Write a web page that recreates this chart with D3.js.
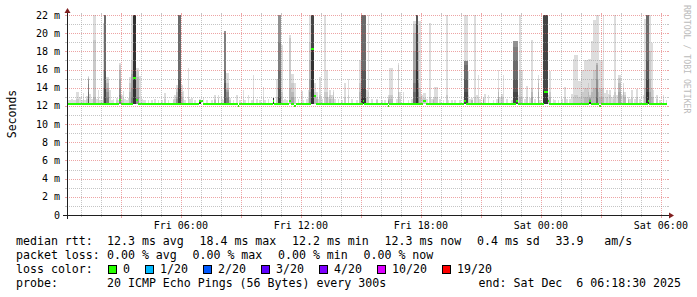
<!DOCTYPE html>
<html>
<head>
<meta charset="utf-8">
<script src="https://cdn.jsdelivr.net/npm/d3@7"></script>
<style>
  body { margin: 0; background: #fff; }
  text { font-family: "DejaVu Sans Mono", monospace; white-space: pre; }
</style>
</head>
<body>
<svg id="chart" width="697" height="297"></svg>
<script>
// ---------------------------------------------------------------------------
// Data
// ---------------------------------------------------------------------------
const startTime = "Fri 00:18:30";
const endTime = "Sat 06:18:30";
const stepMinutes = 5;
const basePing = 12.25;           // where the quiet pings sit
const yMax = 22;                  // ms

const yTicks = [0, 2, 4, 6, 8, 10, 12, 14, 16, 18, 20, 22];
const yTickLabels = ["0", "2 m", "4 m", "6 m", "8 m", "10 m", "12 m", "14 m", "16 m", "18 m", "20 m", "22 m"];
const xLabelTimes = ["Fri 06:00", "Fri 12:00", "Fri 18:00", "Sat 00:00", "Sat 06:00"];

// smoke columns: [start time, number of 5 min steps, upper pings in ms (highest first)]
const smoke = [
  ["Fri 00:20", 2, [12.6]],
  ["Fri 00:30", 1, [12.8]],
  ["Fri 00:35", 2, [12.7]],
  ["Fri 00:45", 2, [13.5, 12.8]],
  ["Fri 00:55", 1, [13.0]],
  ["Fri 01:00", 1, [12.7]],
  ["Fri 01:05", 1, [13.4, 12.8]],
  ["Fri 01:10", 1, [12.7]],
  ["Fri 01:15", 1, [13.1, 12.8]],
  ["Fri 01:20", 1, [15.3, 15.2, 15.1, 15.0, 14.8, 14.4, 13.5, 12.8]],
  ["Fri 01:25", 1, [13.3]],
  ["Fri 01:30", 1, [12.8]],
  ["Fri 01:35", 2, [23, 19.2, 13.0]],
  ["Fri 01:45", 1, [12.8]],
  ["Fri 01:50", 1, [13.8, 12.9]],
  ["Fri 01:55", 2, [12.7]],
  ["Fri 02:05", 1, [21.1, 16, 14, 13]],
  ["Fri 02:10", 1, [23, 23, 23, 23, 23, 23, 23, 16, 14]],
  ["Fri 02:15", 2, [15.2, 15, 14.5, 14, 13.5, 13]],
  ["Fri 02:25", 1, [13.7]],
  ["Fri 02:30", 1, [12.6]],
  ["Fri 02:35", 1, [12.8]],
  ["Fri 02:45", 1, [12.9, 12.6]],
  ["Fri 02:50", 1, [12.6]],
  ["Fri 02:55", 1, [16.7, 16.5, 16, 15, 14, 13.2]],
  ["Fri 03:00", 1, [13.2, 12.7]],
  ["Fri 03:05", 1, [13.6, 12.9]],
  ["Fri 03:10", 1, [12.8]],
  ["Fri 03:15", 1, [12.6]],
  ["Fri 03:20", 1, [12.9]],
  ["Fri 03:25", 1, [15.2, 14.5, 13.5]],
  ["Fri 03:30", 1, [23, 17, 16, 15.5, 14, 13]],
  ["Fri 03:35", 2, [23, 23, 23, 23, 23, 23, 23, 23, 23, 23]],
  ["Fri 03:45", 2, [16.2, 15.8, 15.2, 14, 13]],
  ["Fri 03:55", 1, [15.3]],
  ["Fri 04:00", 1, [12.8]],
  ["Fri 04:05", 1, [12.6]],
  ["Fri 04:10", 1, [12.6]],
  ["Fri 04:20", 1, [12.7]],
  ["Fri 04:30", 1, [12.6]],
  ["Fri 04:40", 1, [12.8]],
  ["Fri 04:50", 1, [12.6]],
  ["Fri 05:00", 1, [12.6]],
  ["Fri 05:10", 1, [13.4, 12.8]],
  ["Fri 05:20", 1, [12.7]],
  ["Fri 05:35", 1, [12.8, 12.6]],
  ["Fri 05:40", 1, [13.2, 12.8]],
  ["Fri 05:45", 1, [14.3, 13.9, 13.5, 13, 12.8]],
  ["Fri 05:50", 2, [23, 23, 23, 23, 23, 23, 23, 15, 14]],
  ["Fri 06:00", 1, [14.3, 13.5, 13]],
  ["Fri 06:05", 1, [13.6, 12.8]],
  ["Fri 06:10", 1, [12.7]],
  ["Fri 06:20", 1, [16.2, 13]],
  ["Fri 06:25", 1, [12.8]],
  ["Fri 06:30", 1, [12.9]],
  ["Fri 06:40", 1, [12.7]],
  ["Fri 06:55", 1, [12.8, 12.6, 12.6, 12.5, 12.5, 12.5, 12.5, 12.5, 12.5, 12.5]],
  ["Fri 07:05", 1, [13]],
  ["Fri 07:15", 1, [12.7]],
  ["Fri 07:30", 1, [12.6]],
  ["Fri 07:40", 1, [13.2, 12.8, 12.6]],
  ["Fri 07:50", 1, [13.2, 12.9, 12.7]],
  ["Fri 08:00", 1, [12.8]],
  ["Fri 08:05", 1, [12.7]],
  ["Fri 08:10", 1, [20.2, 20.2, 20.2, 20.2, 20.2, 20, 16, 14.5]],
  ["Fri 08:15", 2, [15.6, 14.5, 14, 13.8, 13.5, 13]],
  ["Fri 08:25", 1, [12.9, 12.6]],
  ["Fri 08:35", 1, [12.7]],
  ["Fri 08:45", 1, [13.2]],
  ["Fri 08:55", 1, [12.6]],
  ["Fri 09:05", 1, [13.7, 12.8]],
  ["Fri 09:10", 1, [12.7]],
  ["Fri 09:20", 1, [13.2]],
  ["Fri 09:30", 1, [12.7]],
  ["Fri 09:35", 1, [15.4, 13]],
  ["Fri 09:45", 1, [12.8]],
  ["Fri 09:55", 1, [12.7]],
  ["Fri 10:05", 1, [14.1, 12.9]],
  ["Fri 10:10", 1, [12.7]],
  ["Fri 10:20", 1, [12.8]],
  ["Fri 10:35", 1, [12.9, 12.9, 12.9, 12.9, 12.9, 12.9, 12.9, 12.9, 12.9, 12.9]],
  ["Fri 10:45", 1, [15, 13]],
  ["Fri 10:50", 2, [23, 23, 23, 23, 23, 19, 16, 14, 13]],
  ["Fri 11:00", 1, [18.7, 13.5]],
  ["Fri 11:05", 1, [12.7]],
  ["Fri 11:10", 1, [12.8]],
  ["Fri 11:15", 1, [12.6]],
  ["Fri 11:25", 1, [19.8, 19.5, 14]],
  ["Fri 11:30", 2, [15.5, 14.5, 13.5, 13]],
  ["Fri 11:40", 1, [14.5, 13]],
  ["Fri 11:50", 1, [12.8]],
  ["Fri 12:00", 1, [13.6]],
  ["Fri 12:05", 1, [12.7]],
  ["Fri 12:15", 1, [12.8]],
  ["Fri 12:20", 1, [13.7, 12.9]],
  ["Fri 12:25", 1, [23, 19, 17, 15, 13.5]],
  ["Fri 12:30", 2, [23, 23, 23, 23, 23, 23, 23, 23, 23, 18.3]],
  ["Fri 12:40", 1, [14.5, 13.5, 13.2]],
  ["Fri 12:45", 1, [13.5, 13, 12.8]],
  ["Fri 12:50", 1, [12.8]],
  ["Fri 12:55", 1, [15.2, 13.2]],
  ["Fri 13:00", 1, [12.8]],
  ["Fri 13:10", 1, [23, 13.5]],
  ["Fri 13:15", 1, [16, 13.5, 13]],
  ["Fri 13:20", 1, [13.0]],
  ["Fri 13:25", 1, [13.8, 13.2, 12.8]],
  ["Fri 13:30", 1, [13.2, 12.8]],
  ["Fri 13:35", 1, [13.7, 13.5, 13.0]],
  ["Fri 13:40", 1, [12.8]],
  ["Fri 13:50", 1, [12.8]],
  ["Fri 14:00", 1, [12.7]],
  ["Fri 14:10", 1, [14.5, 13]],
  ["Fri 14:20", 1, [15, 13.2]],
  ["Fri 14:30", 1, [12.8]],
  ["Fri 14:45", 1, [12.7]],
  ["Fri 14:55", 1, [17, 14.5, 13.5]],
  ["Fri 15:00", 3, [23, 23, 23, 23, 23, 23, 23, 16, 14, 13]],
  ["Fri 15:15", 1, [13.7, 13]],
  ["Fri 15:20", 1, [23, 13.5]],
  ["Fri 15:30", 1, [12.8]],
  ["Fri 15:45", 1, [12.8, 12.6]],
  ["Fri 16:00", 1, [12.7]],
  ["Fri 16:10", 1, [12.6]],
  ["Fri 16:20", 1, [13.2, 13, 12.8, 12.6, 12.5]],
  ["Fri 16:25", 2, [16.2, 13.2, 12.8]],
  ["Fri 16:45", 1, [12.8]],
  ["Fri 16:50", 1, [16.7, 16.5, 13.5]],
  ["Fri 16:55", 1, [13.5, 12.8]],
  ["Fri 17:05", 1, [13.5, 12.8]],
  ["Fri 17:20", 1, [12.7]],
  ["Fri 17:30", 1, [12.8]],
  ["Fri 17:35", 2, [21.3, 21, 20, 18, 16, 14.5, 13.5]],
  ["Fri 17:45", 1, [23, 23, 23, 23, 23, 23, 23, 23, 21, 16]],
  ["Fri 17:50", 1, [21.3, 20, 18, 16, 14.5, 13.5]],
  ["Fri 17:55", 1, [21.3, 14, 13]],
  ["Fri 18:00", 1, [13.2, 12.8]],
  ["Fri 18:05", 2, [13.4, 12.9]],
  ["Fri 18:15", 1, [12.8]],
  ["Fri 18:25", 1, [21.1, 13]],
  ["Fri 18:30", 1, [12.8]],
  ["Fri 18:35", 1, [13.0, 12.8, 12.6]],
  ["Fri 18:40", 2, [14.1, 13]],
  ["Fri 18:55", 1, [12.8]],
  ["Fri 19:05", 1, [12.7]],
  ["Fri 19:15", 1, [23, 13.2]],
  ["Fri 19:20", 1, [12.7]],
  ["Fri 19:30", 1, [12.6]],
  ["Fri 19:40", 1, [12.6]],
  ["Fri 19:55", 1, [12.7]],
  ["Fri 20:05", 1, [12.8]],
  ["Fri 20:10", 2, [23, 16.9, 16.9, 16.9, 16.9, 16.9, 16.5, 15, 13.5]],
  ["Fri 20:20", 1, [15.8, 13.2]],
  ["Fri 20:25", 1, [12.8]],
  ["Fri 20:30", 1, [12.9, 12.7, 12.6]],
  ["Fri 20:40", 1, [23, 13]],
  ["Fri 20:45", 1, [13.2]],
  ["Fri 20:50", 1, [15.4, 13]],
  ["Fri 20:55", 1, [12.8]],
  ["Fri 21:05", 1, [13, 12.9, 12.8, 12.7]],
  ["Fri 21:10", 1, [13.3]],
  ["Fri 21:20", 1, [13.2]],
  ["Fri 21:35", 1, [12.7]],
  ["Fri 21:45", 1, [12.8]],
  ["Fri 21:50", 1, [16, 14, 13.5, 13, 12.8]],
  ["Fri 21:55", 1, [13.0]],
  ["Fri 22:00", 1, [13.3, 13]],
  ["Fri 22:05", 1, [15.4, 13]],
  ["Fri 22:15", 1, [12.8]],
  ["Fri 22:30", 1, [12.7]],
  ["Fri 22:35", 3, [19.1, 19.1, 19.1, 19.1, 19.1, 18.5, 17, 15, 13.5]],
  ["Fri 22:50", 1, [13.2]],
  ["Fri 22:55", 1, [23, 16, 13]],
  ["Fri 23:00", 1, [16, 13]],
  ["Fri 23:10", 1, [12.8]],
  ["Fri 23:15", 1, [14.2, 13]],
  ["Fri 23:25", 1, [12.9]],
  ["Fri 23:30", 1, [19.2, 14, 13.5, 13]],
  ["Fri 23:40", 1, [12.8]],
  ["Fri 23:50", 1, [15.4, 15, 14.5, 13.5]],
  ["Fri 23:55", 1, [12.7]],
  ["Sat 00:05", 3, [23, 23, 23, 23, 23, 23, 23, 23, 23, 13.6]],
  ["Sat 00:20", 1, [13.2, 12.8]],
  ["Sat 00:25", 1, [15.8, 13.5, 13]],
  ["Sat 00:35", 1, [12.8]],
  ["Sat 00:40", 1, [12.7]],
  ["Sat 00:50", 1, [12.7]],
  ["Sat 01:00", 1, [12.8]],
  ["Sat 01:10", 1, [14.1, 13]],
  ["Sat 01:15", 1, [12.8]],
  ["Sat 01:25", 1, [12.8]],
  ["Sat 01:30", 1, [13.3]],
  ["Sat 01:35", 1, [17.2, 13]],
  ["Sat 01:40", 2, [17.6, 13.2]],
  ["Sat 01:50", 2, [14.7, 13]],
  ["Sat 02:00", 2, [16, 13.5]],
  ["Sat 02:10", 2, [17, 14, 13]],
  ["Sat 02:20", 1, [17.2, 14.5, 13.5]],
  ["Sat 02:25", 1, [17.2, 13.2, 13, 12.9, 12.8, 12.7, 12.7, 12.6, 12.6, 12.6]],
  ["Sat 02:30", 1, [19.1, 15, 13.5]],
  ["Sat 02:35", 2, [21.4, 16, 14]],
  ["Sat 02:45", 1, [23, 16.7, 16.7, 16.5, 15, 14, 13]],
  ["Sat 02:50", 1, [23, 15, 13.5]],
  ["Sat 02:55", 2, [17, 14, 13]],
  ["Sat 03:05", 1, [23, 14, 13]],
  ["Sat 03:10", 1, [13.4]],
  ["Sat 03:15", 1, [13.7, 13]],
  ["Sat 03:20", 1, [13.3]],
  ["Sat 03:25", 1, [13.7, 13.2]],
  ["Sat 03:30", 1, [13.0]],
  ["Sat 03:35", 1, [13.2, 12.8]],
  ["Sat 03:40", 1, [23, 13.5]],
  ["Sat 03:45", 1, [13.2]],
  ["Sat 03:50", 2, [15.4, 15.1, 14.5, 13.5]],
  ["Sat 04:00", 1, [13.2]],
  ["Sat 04:05", 1, [14.5, 14, 13.5]],
  ["Sat 04:10", 1, [13.5, 13.2, 13]],
  ["Sat 04:20", 1, [13, 12.8, 12.7]],
  ["Sat 04:25", 1, [12.8]],
  ["Sat 04:30", 1, [13.7, 12.9]],
  ["Sat 04:40", 1, [12.8]],
  ["Sat 04:45", 1, [13.9, 13]],
  ["Sat 04:55", 1, [12.8]],
  ["Sat 05:05", 1, [13.2]],
  ["Sat 05:10", 1, [21.6, 16, 14]],
  ["Sat 05:15", 2, [23, 23, 23, 23, 23, 23, 23, 17, 15, 13.5]],
  ["Sat 05:25", 1, [23, 18, 15, 13.5]],
  ["Sat 05:30", 1, [18.9, 14, 13]],
  ["Sat 05:35", 1, [13.7, 13]],
  ["Sat 05:45", 1, [13.2, 12.8]],
  ["Sat 05:55", 1, [12.7]],
  ["Sat 06:05", 1, [13.2, 12.8]],
  ["Sat 06:15", 1, [12.7]],
];

// median rtt: [time the value starts, ms]
const medianSteps = [
  ["Fri 00:15", 12.2],
  ["Fri 02:55", 12.6], ["Fri 03:00", 12.2],
  ["Fri 03:35", 15.1], ["Fri 03:45", 12.6], ["Fri 03:50", 12.2],
  ["Fri 06:55", 12.5], ["Fri 07:05", 12.2],
  ["Fri 08:50", 12.0], ["Fri 08:55", 12.2],
  ["Fri 10:35", 12.5], ["Fri 10:40", 12.2],
  ["Fri 11:25", 12.5], ["Fri 11:30", 12.2],
  ["Fri 11:40", 12.0], ["Fri 11:45", 12.2],
  ["Fri 12:30", 18.3], ["Fri 12:40", 13.1], ["Fri 12:45", 12.2],
  ["Fri 15:05", 12.5], ["Fri 15:10", 12.2],
  ["Fri 16:20", 12.0], ["Fri 16:25", 12.2],
  ["Fri 18:05", 12.55], ["Fri 18:15", 12.2],
  ["Fri 20:10", 12.5], ["Fri 20:15", 12.2],
  ["Fri 22:45", 12.5], ["Fri 22:50", 12.2],
  ["Sat 00:10", 13.5], ["Sat 00:20", 12.5], ["Sat 00:25", 12.2],
  ["Sat 02:25", 12.5], ["Sat 02:30", 12.2],
  ["Sat 02:55", 12.0], ["Sat 03:00", 12.2],
  ["Sat 05:20", 12.5], ["Sat 05:25", 12.2],
  ["Sat 06:20", 12.2],
];

const lossLabels = ["0", "1/20", "2/20", "3/20", "4/20", "10/20", "19/20"];
const lossColors = ["#26ff00", "#00b8ff", "#0059ff", "#5e00ff", "#7e00ff", "#dd00ff", "#ff0000"];

const rttLegend = ["12.3 ms avg", "18.4 ms max", "12.2 ms min", "12.3 ms now", "0.4 ms sd", "33.9   am/s"];
const lossLegend = ["0.00 % avg", "0.00 % max", "0.00 % min", "0.00 % now"];
const rowTitles = ["median rtt:", "packet loss:", "loss color:", "probe:"];
const probeText = "20 ICMP Echo Pings (56 Bytes) every 300s";
const endStamp = "end: Sat Dec  6 06:18:30 2025";

// ---------------------------------------------------------------------------
// Layout
// ---------------------------------------------------------------------------
const X0 = 67, X1 = 667, Y0 = 215, Y1 = 15;
const FONT = 11.6, CH = 7.0, GAP = 15.5;      // legend font, char advance, item gap
const COL2 = 107;                              // where legend values begin

const parseT = s => {
  const [d, hm] = s.split(" ");
  const [h, m, sec] = hm.split(":").map(Number);
  return new Date(2025, 11, d === "Fri" ? 5 : 6, h, m, sec || 0);
};

const svg = d3.select("#chart");
const x = d3.scaleTime().domain([parseT(startTime), parseT(endTime)]).range([X0, X1]);
const y = d3.scaleLinear().domain([0, yMax]).range([Y0, Y1]);

svg.append("rect").attr("width", 697).attr("height", 297).attr("fill", "#fff");

svg.append("clipPath").attr("id", "plot")
  .append("rect").attr("x", X0).attr("y", Y1).attr("width", X1 - X0).attr("height", Y0 - Y1);

// smoke: band between ping k+1 and k, darker towards the median
const gray = ii => { const c = 19 * (10 - ii) + 50; return `rgb(${c},${c},${c})`; };
const smokeG = svg.append("g").attr("clip-path", "url(#plot)").attr("shape-rendering", "crispEdges");
for (const [t, steps, pings] of smoke) {
  const t0 = parseT(t);
  const t1 = new Date(+t0 + steps * stepMinutes * 60000);
  const xa = x(t0), xb = x(t1);
  pings.forEach((top, k) => {
    const bottom = k + 1 < pings.length ? pings[k + 1] : basePing;
    const yt = y(Math.min(top, yMax + 1)), yb = y(bottom);
    if (yb - yt <= 0) return;
    smokeG.append("rect")
      .attr("x", xa).attr("width", xb - xa)
      .attr("y", yt).attr("height", yb - yt)
      .attr("fill", gray(k + 1));
  });
}

// median band (stacked area, ~2px thick)
const medG = svg.append("g").attr("clip-path", "url(#plot)").attr("shape-rendering", "crispEdges");
for (let i = 0; i < medianSteps.length - 1; i++) {
  const [t, v] = medianSteps[i];
  const xa = x(parseT(t)), xb = x(parseT(medianSteps[i + 1][0]));
  medG.append("rect")
    .attr("x", xa).attr("width", xb - xa)
    .attr("y", y(v) - 1).attr("height", 2)
    .attr("fill", lossColors[0]);
}

// grid (drawn over the graph, like rrdtool)
const grid = svg.append("g").attr("shape-rendering", "crispEdges");
const minorCol = "rgba(150,150,150,0.55)", majorCol = "rgba(222,90,90,0.55)";
const hours = d3.timeHour.range(x.domain()[0], x.domain()[1]);
for (const h of hours) {
  const px = Math.round(x(h)) + 0.5;
  const major = h.getHours() % 3 === 0;
  const col = major ? majorCol : minorCol;
  grid.append("line")
    .attr("x1", px).attr("x2", px).attr("y1", Y0).attr("y2", Y1)
    .attr("stroke", col).attr("stroke-dasharray", "1,1");
  grid.append("line")
    .attr("x1", px).attr("x2", px).attr("y1", Y0).attr("y2", Y0 + (major ? 3 : 2))
    .attr("stroke", col);
  grid.append("line")
    .attr("x1", px).attr("x2", px).attr("y1", Y1 - 2).attr("y2", Y1)
    .attr("stroke", col);
}
for (let v = 1; v <= yMax; v++) {
  const py = Math.round(y(v)) + 0.5;
  const major = v % 2 === 0;
  const col = major ? majorCol : minorCol;
  grid.append("line")
    .attr("x1", X0).attr("x2", X1).attr("y1", py).attr("y2", py)
    .attr("stroke", col).attr("stroke-dasharray", "1,1");
  grid.append("line")
    .attr("x1", X0 - 2).attr("x2", X0).attr("y1", py).attr("y2", py)
    .attr("stroke", col);
  grid.append("line")
    .attr("x1", X1).attr("x2", X1 + 2).attr("y1", py).attr("y2", py)
    .attr("stroke", col);
}

// axes and arrows
const axisCol = "#1f1f1f", arrowCol = "#801f1f";
svg.append("line").attr("x1", X0 - 4).attr("x2", X1 + 4).attr("y1", Y0 + 0.5).attr("y2", Y0 + 0.5)
  .attr("stroke", axisCol);
svg.append("line").attr("x1", X0 + 0.5).attr("x2", X0 + 0.5).attr("y1", Y0 + 4).attr("y2", Y1 - 4)
  .attr("stroke", axisCol);
svg.append("path").attr("fill", arrowCol)
  .attr("d", `M${X1 + 2},${Y0 - 2.5}L${X1 + 2},${Y0 + 3.5}L${X1 + 7},${Y0 + 0.5}Z`);
svg.append("path").attr("fill", arrowCol)
  .attr("d", `M${X0 - 2.5},${Y1 - 2}L${X0 + 3.5},${Y1 - 2}L${X0 + 0.5},${Y1 - 7}Z`);

// y tick labels
svg.append("g").selectAll("text").data(yTicks).join("text")
  .attr("x", 60).attr("y", d => y(d) + 3.5)
  .attr("text-anchor", "end").attr("font-size", 10).attr("fill", "#000")
  .text((d, i) => yTickLabels[i]);

// x labels
svg.append("g").selectAll("text").data(xLabelTimes).join("text")
  .attr("x", d => x(parseT(d))).attr("y", 229)
  .attr("text-anchor", "middle").attr("font-size", 10).attr("fill", "#000")
  .text(d => d);

// y title
svg.append("text")
  .attr("transform", "translate(16,114) rotate(-90)")
  .attr("text-anchor", "middle").attr("font-size", 11.5).attr("fill", "#000")
  .text("Seconds");

// watermark
svg.append("text")
  .attr("transform", "translate(684,5) rotate(90)")
  .attr("font-size", 8.2).attr("fill", "#bbb")
  .text("RRDTOOL / TOBI OETIKER");

// legend (rrdtool places items one after another with a fixed gap)
const legend = svg.append("g").attr("font-size", FONT).attr("fill", "#000");
const rowY = i => 244.5 + i * 14;
const addText = (s, px, py) => legend.append("text")
  .attr("x", px).attr("y", py)
  .attr("xml:space", "preserve")
  .text(s);

rowTitles.forEach((s, i) => addText(s, 16, rowY(i)));

const placeRow = (items, row) => {
  let cx = COL2;
  for (const s of items) {
    addText(s, cx, rowY(row));
    cx += s.length * CH + GAP;
  }
};
placeRow(rttLegend, 0);
placeRow(lossLegend, 1);

let bx = COL2 + 1;
lossLabels.forEach((lab, i) => {
  legend.append("rect")
    .attr("x", bx + 0.5).attr("y", 265.5).attr("width", 8).attr("height", 8)
    .attr("fill", lossColors[i]).attr("stroke", "#000");
  addText(lab, bx + 15, rowY(2));
  bx += 15 + lab.length * CH + 15;
});

addText(probeText, COL2, rowY(3));
addText(endStamp, 681, rowY(3)).attr("text-anchor", "end");
</script>
</body>
</html>
